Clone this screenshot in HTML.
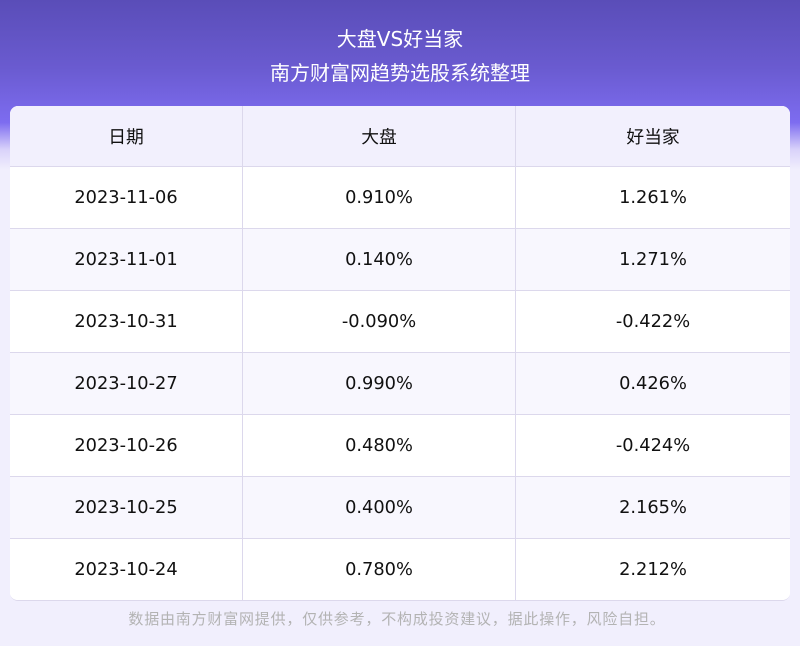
<!DOCTYPE html>
<html><head><meta charset="utf-8"><style>
body{margin:0;width:800px;height:646px;overflow:hidden;font-family:"DejaVu Sans","Noto Sans CJK SC",sans-serif;background:#f1effd;position:relative}
.bg{position:absolute;left:0;top:0;width:800px;height:170px;background:linear-gradient(180deg,#5a4db8 0%,#6a5bd0 40%,#7d6cf0 72%,#d9d2fa 88%,#f1effd 100%)}
.t1,.t2{position:absolute;width:800px;text-align:center;color:#fff;font-size:20px}
.t1{top:23px}.t2{top:57px}
table{position:absolute;left:10px;top:106px;width:780px;border-collapse:separate;border-spacing:0;background:#fff;border-radius:8px;overflow:hidden;font-size:17.8px;color:#111;border-bottom:1px solid #dcd8ec}
td{height:61px;text-align:center;border-right:1px solid #dcd8ec;border-bottom:1px solid #dcd8ec;padding:0;background:#fff}
td:last-child{border-right:none}
tr:nth-child(odd) td{background:#f8f7fe}
tr:first-child td{background:#f2f0fd;height:60px}
tr:last-child td{border-bottom:none}
.ft{position:absolute;top:608px;left:-3px;width:800px;text-align:center;color:#b3b3b3;font-size:15px;letter-spacing:0.8px;font-family:"Noto Sans CJK SC",sans-serif}
</style></head><body>
<div class="bg"></div>
<div class="t1">大盘VS好当家</div>
<div class="t2">南方财富网趋势选股系统整理</div>
<table>
<col style="width:233px"><col style="width:273px"><col>
<tr><td>日期</td><td>大盘</td><td>好当家</td></tr>
<tr><td>2023-11-06</td><td>0.910%</td><td>1.261%</td></tr>
<tr><td>2023-11-01</td><td>0.140%</td><td>1.271%</td></tr>
<tr><td>2023-10-31</td><td>-0.090%</td><td>-0.422%</td></tr>
<tr><td>2023-10-27</td><td>0.990%</td><td>0.426%</td></tr>
<tr><td>2023-10-26</td><td>0.480%</td><td>-0.424%</td></tr>
<tr><td>2023-10-25</td><td>0.400%</td><td>2.165%</td></tr>
<tr><td>2023-10-24</td><td>0.780%</td><td>2.212%</td></tr>
</table>
<div class="ft">数据由南方财富网提供，仅供参考，不构成投资建议，据此操作，风险自担。</div>
</body></html>
